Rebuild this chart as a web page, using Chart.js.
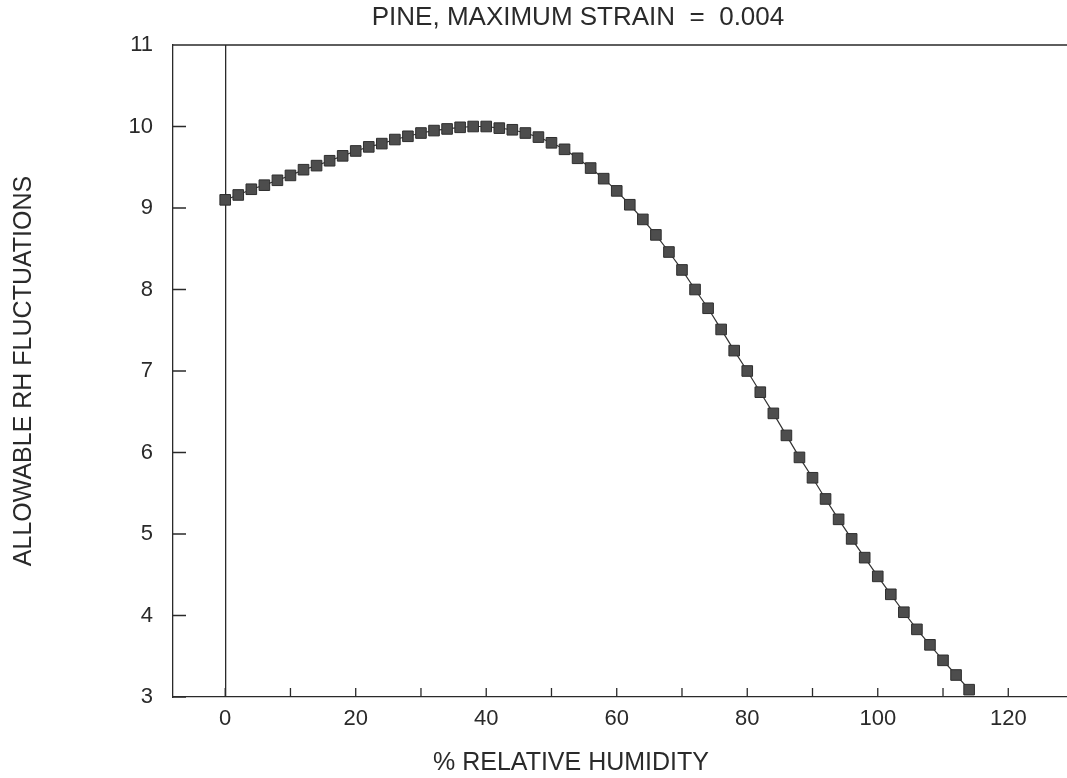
<!DOCTYPE html>
<html>
<head>
<meta charset="utf-8">
<title>Pine, maximum strain = 0.004</title>
<script src="https://cdn.jsdelivr.net/npm/chart.js@4.4.1/dist/chart.umd.min.js"></script>
<style>
  html, body { margin: 0; padding: 0; background: #fff; }
  #chart { display: block; }
</style>
</head>
<body>
<canvas id="chart" width="1067" height="778"></canvas>
<script>
// % relative humidity, one reading every 2 %
const rh = [
  0, 2, 4, 6, 8, 10, 12, 14, 16, 18,
  20, 22, 24, 26, 28, 30, 32, 34, 36, 38,
  40, 42, 44, 46, 48, 50, 52, 54, 56, 58,
  60, 62, 64, 66, 68, 70, 72, 74, 76, 78,
  80, 82, 84, 86, 88, 90, 92, 94, 96, 98,
  100, 102, 104, 106, 108, 110, 112, 114,
];

// allowable RH fluctuations
const allowable = [
  9.10, 9.16, 9.23, 9.28, 9.34, 9.40, 9.47, 9.52, 9.58, 9.64,
  9.70, 9.75, 9.79, 9.84, 9.88, 9.92, 9.95, 9.97, 9.99, 10.00,
  10.00, 9.98, 9.96, 9.92, 9.87, 9.80, 9.72, 9.61, 9.49, 9.36,
  9.21, 9.04, 8.86, 8.67, 8.46, 8.24, 8.00, 7.77, 7.51, 7.25,
  7.00, 6.74, 6.48, 6.21, 5.94, 5.69, 5.43, 5.18, 4.94, 4.71,
  4.48, 4.26, 4.04, 3.83, 3.64, 3.45, 3.27, 3.09,
];

const xTicks = [0, 10, 20, 30, 40, 50, 60, 70, 80, 90, 100, 110, 120];
const xLabels = [0, 20, 40, 60, 80, 100, 120];
const yTicks = [3, 4, 5, 6, 7, 8, 9, 10, 11];

const chartTitle = "PINE, MAXIMUM STRAIN  =  0.004";
const xTitle = "% RELATIVE HUMIDITY";
const yTitle = "ALLOWABLE RH FLUCTUATIONS";

const INK = "#2a2a2a";
const FONT = "'Liberation Sans', Arial, Helvetica, sans-serif";

// tick marks point into the plot, plus the top frame line and the titles
const frameAndTitles = {
  id: "frameAndTitles",
  afterDraw(chart) {
    const { ctx, chartArea: a, scales } = chart;
    ctx.save();
    ctx.strokeStyle = INK;
    ctx.lineWidth = 1.3;
    ctx.beginPath();
    ctx.moveTo(a.left, a.top);
    ctx.lineTo(a.right, a.top);
    scales.x.ticks.forEach((t) => {
      const px = scales.x.getPixelForValue(t.value);
      ctx.moveTo(px, a.bottom);
      ctx.lineTo(px, a.bottom - 9);
    });
    scales.y.ticks.forEach((t) => {
      const py = scales.y.getPixelForValue(t.value);
      ctx.moveTo(a.left, py);
      ctx.lineTo(a.left + 13, py);
    });
    ctx.stroke();

    ctx.fillStyle = INK;
    ctx.textAlign = "center";
    ctx.textBaseline = "middle";
    ctx.font = `26px ${FONT}`;
    ctx.fillText(chartTitle, 578, 18);
    ctx.font = `25px ${FONT}`;
    ctx.fillText(xTitle, 571, 763);
    ctx.restore();
  },
};

new Chart(document.getElementById("chart"), {
  type: "scatter",
  data: {
    datasets: [
      {
        data: rh.map((x, i) => ({ x, y: allowable[i] })),
        showLine: true,
        borderColor: "#333",
        borderWidth: 1.2,
        pointStyle: "rect",
        pointRadius: 7.5,
        pointBackgroundColor: "#4d4d4d",
        pointBorderColor: "#2e2e2e",
        pointBorderWidth: 1,
      },
    ],
  },
  options: {
    responsive: false,
    animation: false,
    devicePixelRatio: 1,
    layout: { autoPadding: false, padding: { top: 45, left: 9, right: 0, bottom: 0 } },
    plugins: {
      legend: { display: false },
      tooltip: { enabled: false },
    },
    scales: {
      x: {
        type: "linear",
        min: -8,
        max: 129,
        afterBuildTicks: (s) => { s.ticks = xTicks.map((v) => ({ value: v })); },
        afterFit: (s) => {
          s.height = 81;
          s.paddingLeft = 0;
          s.paddingRight = 0;
        },
        ticks: {
          color: INK,
          font: { family: FONT, size: 22 },
          padding: 9,
          maxRotation: 0,
          autoSkip: false,
          callback: (v) => (xLabels.includes(v) ? String(v) : ""),
        },
        grid: {
          drawTicks: false,
          drawOnChartArea: true,
          lineWidth: 1.3,
          color: (c) => (c.tick && c.tick.value === 0 ? INK : "rgba(0,0,0,0)"),
        },
        border: { display: true, color: INK, width: 1.3 },
      },
      y: {
        type: "linear",
        min: 3,
        max: 11,
        afterBuildTicks: (s) => { s.ticks = yTicks.map((v) => ({ value: v })); },
        afterFit: (s) => { s.width = 164; },
        ticks: {
          color: INK,
          font: { family: FONT, size: 22 },
          padding: 12,
        },
        grid: { display: false },
        border: { display: true, color: INK, width: 1.3 },
        title: {
          display: true,
          text: yTitle,
          color: INK,
          font: { family: FONT, size: 25 },
          padding: 0,
        },
      },
    },
  },
  plugins: [frameAndTitles],
});
</script>
</body>
</html>
